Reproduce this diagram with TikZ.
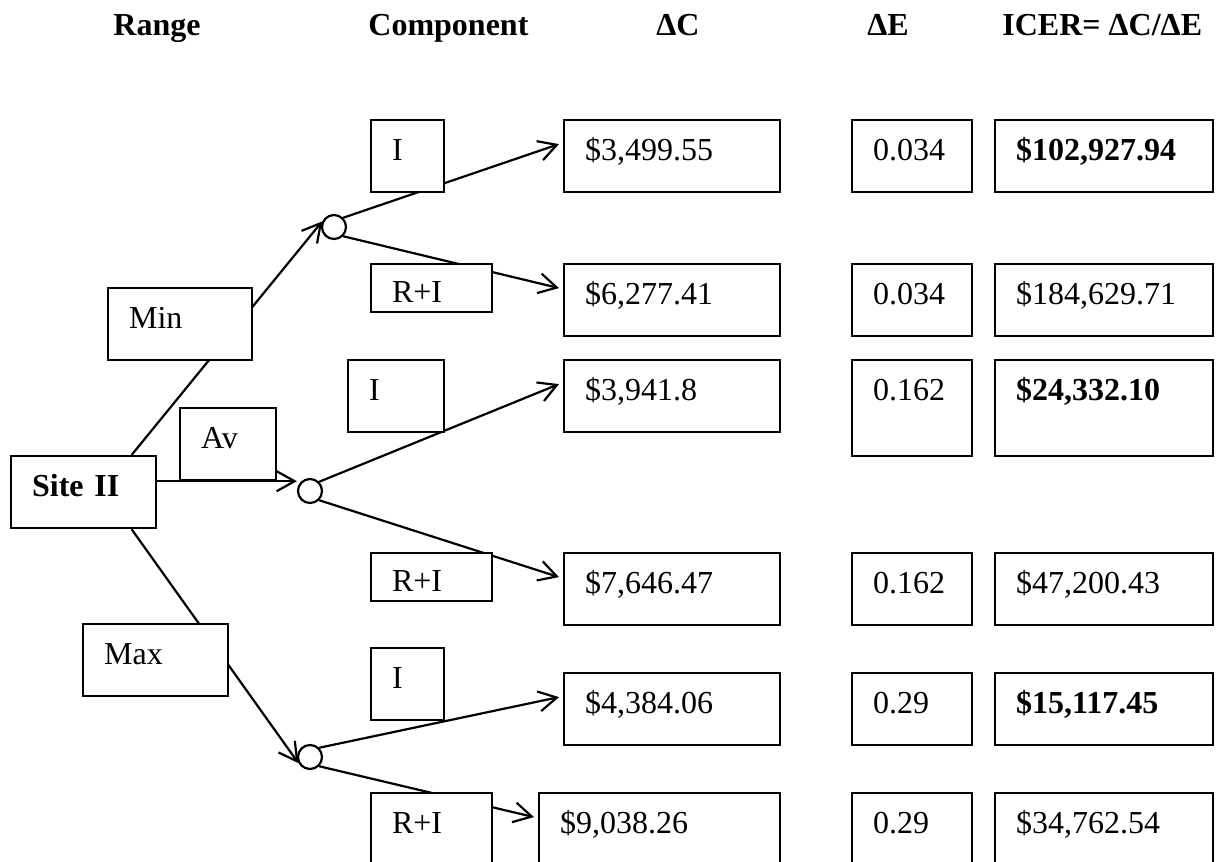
\documentclass[tikz,border=0pt]{standalone}
\usepackage{fontspec}
\setmainfont{Liberation Serif}
\usetikzlibrary{arrows.meta,calc,backgrounds}
\newcommand{\boxfont}{\fontsize{16}{19}\selectfont}
\tikzset{
  cbox/.style={draw,line width=1.1pt,fill=white,anchor=north west,align=left,
    inner xsep=10.5pt,inner ysep=0pt,text height=20pt,text depth=16pt,text width=#1},
  lowbox/.style={cbox=#1,text height=19pt,text depth=5pt},
  chance/.style={draw,circle,line width=1.1pt,fill=white,minimum size=12pt,inner sep=0pt},
  head/.style={anchor=base west,inner sep=0pt,font=\boxfont\bfseries},
  link/.style={line width=1.1pt,-{Straight Barb[length=9pt,width=10pt]}},
}
\begin{document}
\begin{tikzpicture}[x=0.5pt,y=-0.5pt,every node/.style={font=\boxfont}]
\useasboundingbox (0,0) rectangle (1219,861);
\clip (0,0) rectangle (1219,861);
% column headings
\node[head] (hrange) at (113,36) {Range};
\node[head] (hcomp) at (368,36) {Component};
\node[head] (hdc) at (656,36) {ΔC};
\node[head] (hde) at (867,36) {ΔE};
\node[head] (hicer) at (1002,36) {ICER= ΔC/ΔE};
% site and ranges
\node[cbox=51.5pt,font=\boxfont\bfseries] (site) at (10,455) {Site II};
\node[cbox=51pt] (min) at (107,287) {Min};
\node[cbox=27pt] (av) at (179,407) {Av};
\node[cbox=51.5pt] (max) at (82,623) {Max};
\node[chance] (c1) at (334,227) {};
\node[chance] (c2) at (310,491) {};
\node[chance] (c3) at (310,757) {};
% components
\node[cbox=15.5pt] (k1) at (370,119) {I};
\node[lowbox=39.5pt] (k2) at (370,263) {R+I};
\node[cbox=27pt] (k3) at (347,359) {I};
\node[lowbox=39.5pt] (k4) at (370,552) {R+I};
\node[cbox=15.5pt] (k5) at (370,647) {I};
\node[cbox=39.5pt] (k6) at (370,792) {R+I};
% delta C
\node[cbox=87pt] (dc1) at (563,119) {\$3,499.55};
\node[cbox=87pt] (dc2) at (563,263) {\$6,277.41};
\node[cbox=87pt] (dc3) at (563,359) {\$3,941.8};
\node[cbox=87pt] (dc4) at (563,552) {\$7,646.47};
\node[cbox=87pt] (dc5) at (563,672) {\$4,384.06};
\node[cbox=99.5pt] (dc6) at (538,792) {\$9,038.26};
% delta E and ICER
\foreach \n/\y/\d/\e/\r in {1/119/16pt/0.034/{\textbf{\$102,927.94}},
    2/263/16pt/0.034/{\$184,629.71}, 3/359/28pt/0.162/{\textbf{\$24,332.10}},
    4/552/16pt/0.162/{\$47,200.43}, 5/672/16pt/0.29/{\textbf{\$15,117.45}},
    6/792/16pt/0.29/{\$34,762.54}} {
  \node[cbox=39pt,text depth=\d] (de\n) at (851,\y) {\e};
  \node[cbox=88pt,text depth=\d] (ic\n) at (994,\y) {\r};
}
\begin{scope}[on background layer]
\draw[link] ($(site.north)+(48,0)$) -- (c1.155);
\draw[link] (site.east |- av.south) -- (c2.west |- av.south);
\draw[link] ($(site.south)+(48,0)$) -- (c3.208);
\draw[link] (c1.north east) -- ($(dc1.west)+(-4,-12)$);
\draw[link] (c1.south east) -- ($(dc2.west)+(-4,-12)$);
\draw[link] (c2.north east) -- ($(dc3.west)+(-4,-12)$);
\draw[link] (c2.south east) -- ($(dc4.west)+(-4,-12)$);
\draw[link] (c3.north east) -- ($(dc5.west)+(-4,-12)$);
\draw[link] (c3.south east) -- ($(dc6.west)+(-4,-12)$);
\end{scope}
\end{tikzpicture}
\end{document}
